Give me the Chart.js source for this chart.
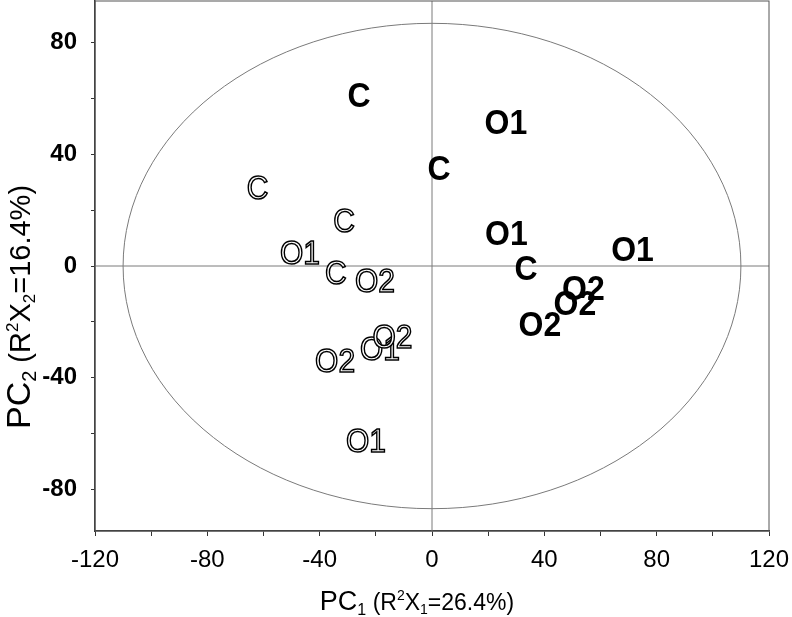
<!DOCTYPE html>
<html>
<head>
<meta charset="utf-8">
<script src="https://cdn.jsdelivr.net/npm/chart.js@4/dist/chart.umd.min.js"></script>
<style>
  html, body { margin: 0; padding: 0; background: #fff; }
  #wrap { width: 792px; height: 617px; }
</style>
</head>
<body>
<div id="wrap"><canvas id="canvas" width="792" height="617"></canvas></div>
<script>
// scores, filled (black) labels
const filledLabels = ['C', 'O1', 'C', 'O1', 'O1', 'C', 'O2', 'O2', 'O2'];
const filledX = [-26, 26.3, 2.5, 26.5, 71.4, 33.5, 53.9, 50.9, 38.4];
const filledY = [60.5, 50.8, 34.5, 10.9, 5.2, -1.3, -8.8, -14.2, -21.7];

// scores, outlined (white) labels
const outlineLabels = ['C', 'C', 'O1', 'C', 'O2', 'O1', 'O2', 'O2', 'O1'];
const outlineX = [-62.1, -31.3, -47, -34.2, -20.3, -18.5, -14.1, -34.5, -23.5];
const outlineY = [27.5, 15.6, 4, -3, -5.9, -30.4, -26, -34.7, -63.4];

// Hotelling T2 ellipse radii
const ellipseRadiusX = 110;
const ellipseRadiusY = 87;

const xTicks = [-120, -80, -40, 0, 40, 80, 120];
const yTicks = [-80, -40, 0, 40, 80];

function toPoints(xs, ys) {
    return xs.map((v, i) => ({ x: v, y: ys[i] }));
}

function drawRich(ctx, parts, x, y, centered) {
    let w = 0;
    parts.forEach(p => { ctx.font = p[1] + 'px "Liberation Sans"'; w += ctx.measureText(p[0]).width; });
    let cx = centered ? x - w / 2 : x;
    parts.forEach(p => {
        ctx.font = p[1] + 'px "Liberation Sans"';
        ctx.fillText(p[0], cx, y + p[2]);
        cx += ctx.measureText(p[0]).width;
    });
}

const pcaPlugin = {
    id: 'pca',
    beforeDatasetsDraw(chart) {
        const { ctx, chartArea: a, scales: { x, y } } = chart;
        const x0 = x.getPixelForValue(0), y0 = y.getPixelForValue(0);
        ctx.save();
        ctx.strokeStyle = '#7a7a7a';
        ctx.lineWidth = 1;
        ctx.beginPath();
        ctx.moveTo(x0, a.top); ctx.lineTo(x0, a.bottom);
        ctx.moveTo(a.left, y0); ctx.lineTo(a.right, y0);
        ctx.stroke();
        ctx.beginPath();
        ctx.ellipse(x0, y0, x.getPixelForValue(ellipseRadiusX) - x0, y0 - y.getPixelForValue(ellipseRadiusY), 0, 0, 2 * Math.PI);
        ctx.stroke();
        ctx.strokeStyle = '#555';
        ctx.strokeRect(a.left, a.top, a.width, a.height);
        ctx.restore();
    },
    afterDatasetsDraw(chart) {
        const ctx = chart.ctx;
        chart.data.datasets.forEach((ds, di) => {
            const meta = chart.getDatasetMeta(di);
            meta.data.forEach((pt, i) => {
                ctx.save();
                ctx.translate(pt.x, pt.y);
                ctx.scale(1, 1.12);
                ctx.textAlign = 'center';
                ctx.textBaseline = 'middle';
                if (ds.filled) {
                    ctx.font = 'bold 32px "Liberation Sans"';
                    ctx.fillStyle = '#000';
                    ctx.fillText(ds.names[i], 0, 0);
                } else {
                    ctx.font = '30px "Liberation Sans"';
                    ctx.fillStyle = '#fff';
                    ctx.strokeStyle = '#000';
                    ctx.lineWidth = 1.4;
                    ctx.fillText(ds.names[i], 0, 0);
                    ctx.strokeText(ds.names[i], 0, 0);
                }
                ctx.restore();
            });
        });
    },
    afterDraw(chart) {
        const ctx = chart.ctx;
        ctx.save();
        ctx.fillStyle = '#000';
        ctx.textBaseline = 'alphabetic';
        drawRich(ctx, [['PC', 27, 0], ['1', 16, 5], [' (R', 23, 0], ['2', 14, -10], ['X', 23, 0], ['1', 14, 4], ['=26.4%)', 23, 0]], 417, 610, true);
        ctx.translate(30, 307);
        ctx.rotate(-Math.PI / 2);
        drawRich(ctx, [['PC', 34, 0], ['2', 20, 6], [' (R', 29, 0], ['2', 17, -12], ['X', 29, 0], ['2', 17, 5], ['=16.4%)', 29, 0]], 0, 0, true);
        ctx.restore();
    }
};

const ctx = document.getElementById('canvas').getContext('2d');
const chart = new Chart(ctx, {
    type: 'scatter',
    data: {
        datasets: [
            { label: 'outlined', names: outlineLabels, filled: false, data: toPoints(outlineX, outlineY), pointRadius: 0 },
            { label: 'filled', names: filledLabels, filled: true, data: toPoints(filledX, filledY), pointRadius: 0 }
        ]
    },
    options: {
        responsive: false,
        animation: false,
        layout: { padding: { top: 1, right: 23, left: 0, bottom: 0 } },
        plugins: { legend: { display: false }, tooltip: { enabled: false } },
        scales: {
            x: {
                type: 'linear',
                min: -120, max: 120,
                afterFit(scale) { scale.height = 86; scale.paddingLeft = 0; scale.paddingRight = 0; },
                border: { display: true, color: '#333', width: 1.5 },
                grid: { drawOnChartArea: false, drawTicks: true, tickLength: 5, color: '#333' },
                ticks: {
                    stepSize: 20, includeBounds: false, padding: 10, color: '#000',
                    font: { family: 'Liberation Sans', size: 24 },
                    callback: v => xTicks.includes(v) ? String(v) : ''
                }
            },
            y: {
                type: 'linear',
                min: -95, max: 95,
                afterFit(scale) { scale.width = 95; scale.paddingTop = 0; scale.paddingBottom = 0; },
                border: { display: true, color: '#333', width: 1.5 },
                grid: { drawOnChartArea: false, drawTicks: true, tickLength: 4, color: '#333' },
                ticks: {
                    stepSize: 20, includeBounds: false, padding: 14, color: '#000',
                    font: { family: 'Liberation Sans', size: 24, weight: 'bold' },
                    callback: v => yTicks.includes(v) ? String(v) : ''
                }
            }
        }
    },
    plugins: [pcaPlugin]
});
</script>
</body>
</html>
